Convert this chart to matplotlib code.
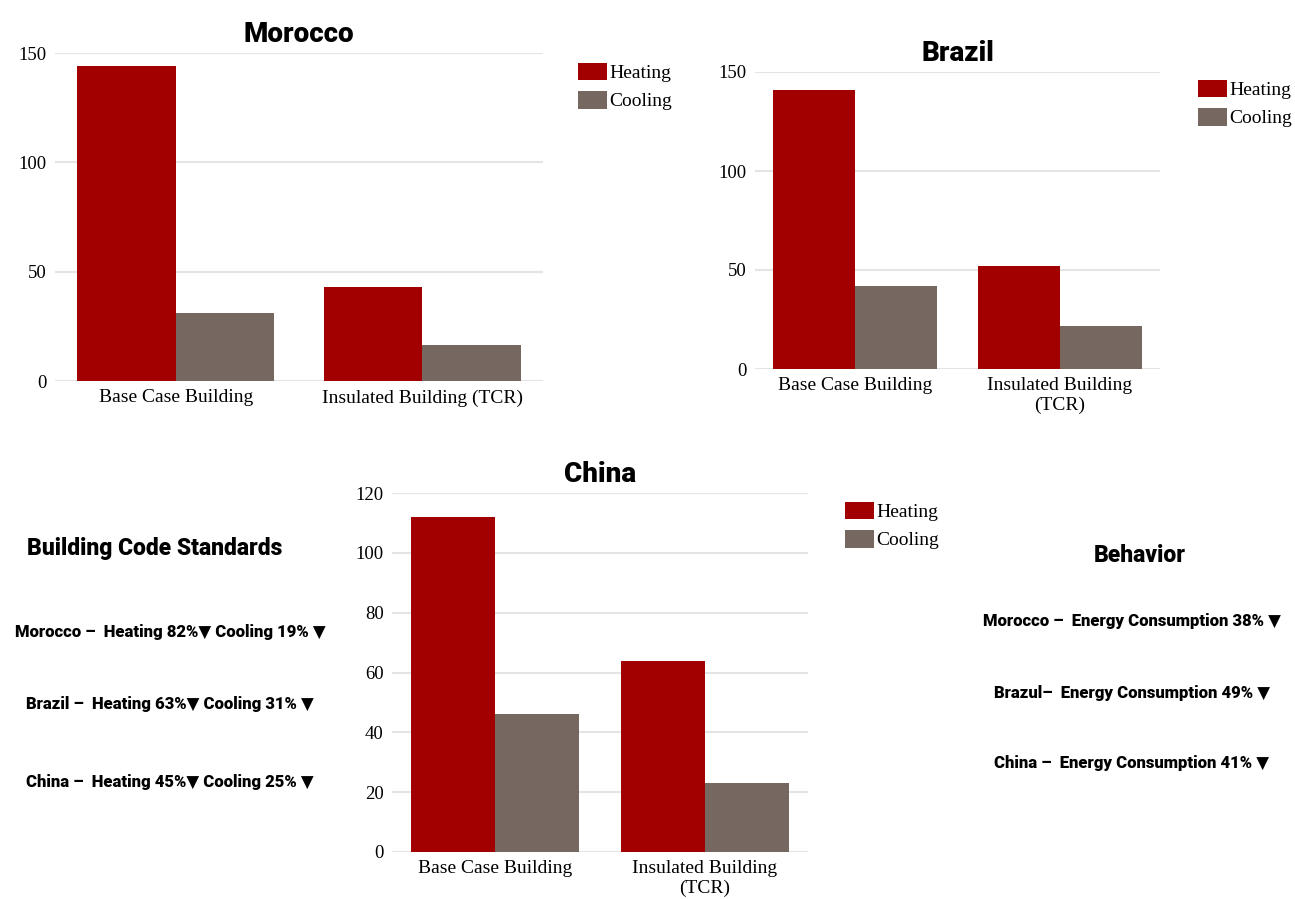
import numpy as np
import matplotlib.pyplot as plt

# Data
categories = ['Base Case Building', 'Insulated Building (TCR)']
categories_wrapped = ['Base Case Building', 'Insulated Building\n(TCR)']
series = ['Heating', 'Cooling']

morocco_heating = [144, 43]
morocco_cooling = [31, 16.5]
brazil_heating = [141, 52]
brazil_cooling = [42, 21.5]
china_heating = [112, 64]
china_cooling = [46, 23]

code_lines = ['Morocco \u2013  Heating 82%\u25bc Cooling 19% \u25bc',
              'Brazil \u2013  Heating 63%\u25bc Cooling 31% \u25bc',
              'China \u2013  Heating 45%\u25bc Cooling 25% \u25bc']
behavior_lines = ['Morocco \u2013  Energy Consumption 38% \u25bc',
                  'Brazul\u2013  Energy Consumption 49% \u25bc',
                  'China \u2013  Energy Consumption 41% \u25bc']

heat_col = '#a20000'
cool_col = '#766860'
head_font = ['Roboto', 'DejaVu Sans']
tick_font = ['Liberation Serif', 'DejaVu Serif']

W, H = 1295, 899
fig = plt.figure(figsize=(W / 100, H / 100), dpi=100)


def px_axes(x0, x1, ytop, ybot):
    return fig.add_axes([x0 / W, 1 - ybot / H, (x1 - x0) / W, (ybot - ytop) / H])


def bar_panel(ax, title, heating, cooling, labels, ymax, yticks, legend_xy):
    x = np.arange(len(labels))
    w = 0.4
    hb = ax.bar(x - w / 2, heating, w, color=heat_col, label=series[0], zorder=3)
    cb = ax.bar(x + w / 2, cooling, w, color=cool_col, label=series[1], zorder=3)
    ax.set_xlim(-0.49, 1.49)
    ax.set_ylim(0, ymax)
    ax.set_yticks(yticks)
    ax.set_xticks(x)
    ax.set_xticklabels(labels, family=tick_font, fontsize=14, linespacing=1.15)
    for t in ax.get_yticklabels():
        t.set_family(tick_font)
        t.set_fontsize(13.5)
    ax.tick_params(length=0, pad=6)
    ax.grid(axis='y', color='#e4e4e4', lw=1.5, zorder=0)
    for s in ax.spines.values():
        s.set_visible(False)
    ax.set_title(title, family=head_font, fontweight=900, fontsize=20, pad=8)
    fig.legend(handles=[hb, cb], loc='upper left',
               bbox_to_anchor=(legend_xy[0] / W, 1 - legend_xy[1] / H),
               frameon=False, prop={'family': tick_font, 'size': 14},
               handlelength=1.5, handleheight=1.0, handletextpad=0.1,
               labelspacing=0.45, borderpad=0, borderaxespad=0)


ax1 = px_axes(55, 543, 53, 381)
bar_panel(ax1, 'Morocco', morocco_heating, morocco_cooling, categories,
          150, [0, 50, 100, 150], (578, 63))

ax2 = px_axes(755, 1160, 72, 369)
bar_panel(ax2, 'Brazil', brazil_heating, brazil_cooling, categories_wrapped,
          150, [0, 50, 100, 150], (1198, 80))

ax3 = px_axes(392, 808, 493, 852)
bar_panel(ax3, 'China', china_heating, china_cooling, categories_wrapped,
          120, [0, 20, 40, 60, 80, 100, 120], (845, 502))

# side notes
fig.text(155 / W, 1 - 548 / H, 'Building Code Standards', family=head_font,
         fontweight=900, fontsize=16.5, ha='center', va='center')
for line, y in zip(code_lines, [632, 704, 782]):
    fig.text(170 / W, 1 - y / H, line, family=head_font, fontweight=900,
             fontsize=12, ha='center', va='center')

fig.text(1140 / W, 1 - 555 / H, 'Behavior', family=head_font,
         fontweight=900, fontsize=16.5, ha='center', va='center')
for line, y in zip(behavior_lines, [621, 693, 763]):
    fig.text(1132 / W, 1 - y / H, line, family=head_font, fontweight=900,
             fontsize=12, ha='center', va='center')

fig.savefig('out.png', dpi=100, facecolor='white')
